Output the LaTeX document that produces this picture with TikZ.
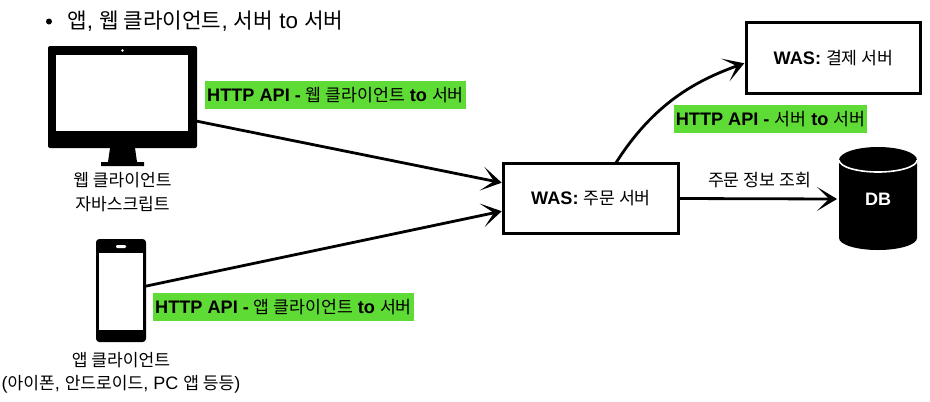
\documentclass[tikz,border=0pt]{standalone}
\usepackage{fontspec}
\setmainfont{Liberation Sans}
\newfontfamily\kr{Noto Sans CJK KR}[Scale=0.95]
\newcommand{\K}[1]{{\kr #1}}
\usetikzlibrary{arrows.meta,calc}
\definecolor{hl}{HTML}{5FDB36}
\tikzset{
  x=0.75pt,y=-0.75pt,
  conn/.style={line width=2.1pt,shorten >=1.5pt,-{Stealth[length=15pt,width=18pt,inset=9pt,line width=1.9pt,fill=black]},black},
  wasbox/.style={draw=black,line width=2.2pt,fill=white,minimum width=131pt,minimum height=53pt,inner sep=0pt,outer sep=0pt,font=\fontsize{13.6}{16}\selectfont},
  tag/.style={fill=hl,inner sep=0pt,minimum height=21pt,font=\fontsize{13.6}{16}\selectfont},
  caption/.style={align=center,font=\fontsize{13.5}{17.5}\selectfont,inner sep=0pt},
  anchorbox/.style={inner sep=0pt,outer sep=0pt,minimum width=#1},
}
\begin{document}
\begin{tikzpicture}
\useasboundingbox (0,0) rectangle (930,401);
% title
\fill (49,21.5) circle (3);
\node[anchor=west,inner sep=0pt,font=\fontsize{16.8}{20}\selectfont] (title) at (67,21.5) {\K{앱}, \K{웹 클라이언트}, \K{서버} to \K{서버}};
% monitor
\node[anchorbox=111.75pt,minimum height=76.5pt] (web) at (122.5,97) {};
\fill[rounded corners=1.5pt] (48,46) rectangle (197,148);
\fill[white] (56,55) rectangle (188,131);
\fill[white] (122.5,50.5) circle (1.4);
\fill (110,148) -- (135,148) -- (137,162) -- (144,162) -- (144,166) -- (101,166) -- (101,162) -- (108,162) -- cycle;
\node[caption] (webcap) at (122.5,192) {\K{웹 클라이언트}\\\K{자바스크립트}};
% phone
\node[anchorbox=37.5pt,minimum height=77pt] (app) at (121,290.5) {};
\fill[rounded corners=2.5pt] (96,239) rectangle (146,342);
\fill[white] (99,252.5) rectangle (143,329.5);
\fill[white,rounded corners=0.8pt] (116,245) rectangle (126,248);
\node[caption] (appcap) at (121,372.5) {\K{앱 클라이언트}\\(\K{아이폰}, \K{안드로이드}, PC \K{앱 등등})};
% boxes
\node[wasbox] (order) at (591,198.5) {\textbf{WAS:} \K{주문 서버}};
\node[wasbox] (pay) at (833.5,58) {\textbf{WAS:} \K{결제 서버}};
% db
\node[inner sep=0pt,outer sep=0pt,minimum width=58.5pt,minimum height=76pt] (db) at (878,199) {};
\fill (839,160) arc[start angle=180,end angle=360,x radius=39,y radius=13] -- (917,238) arc[start angle=0,end angle=180,x radius=39,y radius=12] -- cycle;
\draw[white,line width=1.2pt] (839,160) arc[start angle=180,end angle=0,x radius=39,y radius=12];
\node[text=white,font=\bfseries\fontsize{13.5}{16}\selectfont,inner sep=0pt] (dbt) at (db.center) {DB};
% labels
\node[tag,minimum width=195.75pt] (t1) at (335.5,95) {\textbf{HTTP API -} \K{웹 클라이언트} \textbf{to} \K{서버}};
\node[tag,minimum width=195.75pt] (t2) at (283.5,307) {\textbf{HTTP API -} \K{앱 클라이언트} \textbf{to} \K{서버}};
\node[tag,minimum width=144.75pt] (t3) at (770.5,119) {\textbf{HTTP API -} \K{서버} \textbf{to} \K{서버}};
\node[inner sep=0pt,font=\fontsize{13.6}{16}\selectfont] (q) at (759.5,180) {\K{주문 정보 조회}};
% connectors
\draw[conn] (web.-18) -- (order.170);
\draw[conn] (app.10) -- (order.188);
\draw[conn] (order.55) .. controls +(38,-60) and +(-50,18) .. (pay.183);
\draw[conn] (order.east) -- (db.west);
\end{tikzpicture}
\end{document}
